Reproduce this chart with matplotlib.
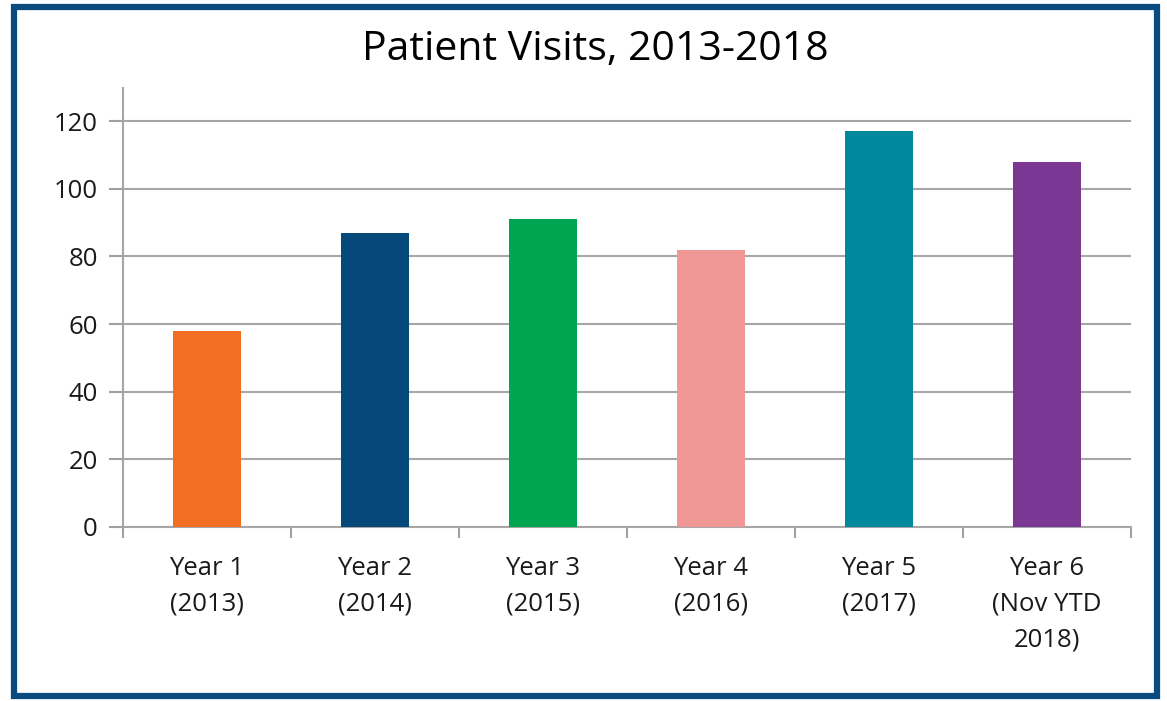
import matplotlib.pyplot as plt
from matplotlib.patches import Rectangle

categories = ["Year 1\n(2013)", "Year 2\n(2014)", "Year 3\n(2015)", "Year 4\n(2016)",
              "Year 5\n(2017)", "Year 6\n(Nov YTD\n2018)"]
visits = [58, 87, 91, 82, 117, 108]
bar_colors = ["#F26E23", "#05497B", "#00A551", "#EF9896", "#00899E", "#7B3794"]
yticks = [0, 20, 40, 60, 80, 100, 120]

plt.rcParams['font.family'] = ['Open Sans', 'DejaVu Sans']

fig = plt.figure(figsize=(11.67, 7.01), dpi=100)
fig.patch.set_facecolor("white")
# blue frame round the whole picture
fig.patches.append(Rectangle((14 / 1167, 5 / 701), 1143 / 1167, 689 / 701,
                             transform=fig.transFigure, fill=False,
                             edgecolor="#0B4C80", linewidth=4.5))

ax = fig.add_axes([123 / 1167, 1 - 527 / 701, 1008 / 1167, 439 / 701])
x = list(range(len(visits)))
ax.bar(x, visits, width=0.4, color=bar_colors, zorder=3)

ax.set_xlim(-0.5, len(visits) - 0.5)
ax.set_ylim(0, 129.8)
ax.set_yticks(yticks)
ax.tick_params(axis="y", labelsize=18.5, colors="#A0A0A0", labelcolor="#1a1a1a",
               length=10, width=1.5, pad=8)
ax.grid(axis="y", color="#A6A6A6", linewidth=1.5, zorder=0)

ax.set_xticks([i + 0.5 for i in range(-1, len(visits))], minor=False)
ax.set_xticklabels([])
ax.tick_params(axis="x", colors="#A0A0A0", length=8, width=1.5, direction="out")
ax.set_xticks(x, minor=True)
ax.set_xticklabels(categories, minor=True, fontsize=18.5, color="#1a1a1a",
                   linespacing=1.56, va="top")
ax.tick_params(axis="x", which="minor", length=0, pad=21)

for s in ["top", "right"]:
    ax.spines[s].set_visible(False)
ax.spines["left"].set_color("#A6A6A6")
ax.spines["left"].set_linewidth(1.5)
ax.spines["bottom"].set_color("#A6A6A6")
ax.spines["bottom"].set_linewidth(1.5)

fig.text(595 / 1167, 1 - 50 / 701, "Patient Visits, 2013-2018", ha="center",
         va="center", fontsize=29.5, color="black")

fig.savefig("out.png", dpi=100)
